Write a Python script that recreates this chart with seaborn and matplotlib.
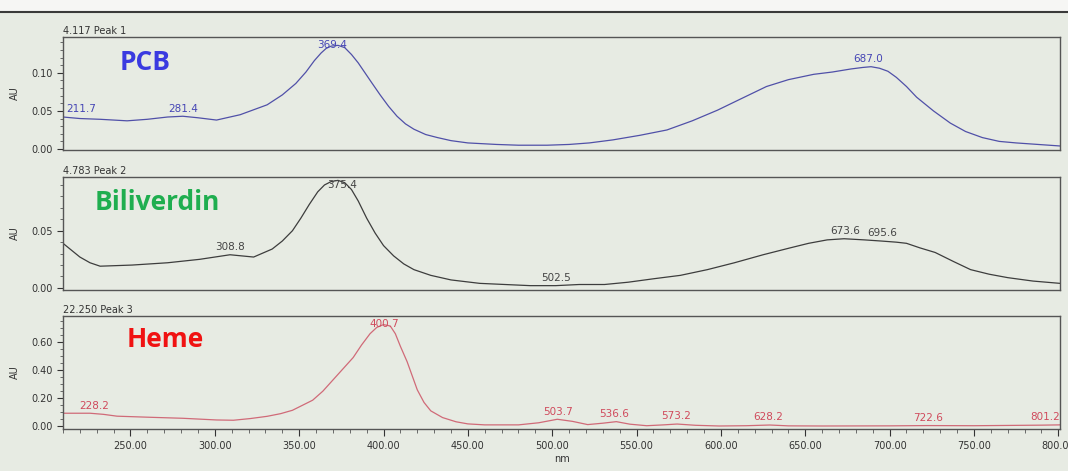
import numpy as np
import pandas as pd
import seaborn as sns
import matplotlib.pyplot as plt
from matplotlib.ticker import MultipleLocator, FormatStrFormatter
from matplotlib.lines import Line2D
from matplotlib.patches import Rectangle

# ---- spectra (nm, AU) ----
pcb_nm = [210, 220, 232, 248, 260, 272, 281, 290, 301, 315, 331, 340, 348, 354, 359, 363,
          366, 369, 373, 377, 381, 385, 389, 393, 398, 403, 408, 413, 418, 425, 432, 440,
          450, 467, 480, 497, 510, 522, 536, 552, 568, 583, 598, 612, 627, 640, 655, 666,
          677, 684, 689, 694, 699, 704, 710, 716, 726, 736, 745, 755, 765, 775, 788, 801]
pcb_au = [0.042, 0.040, 0.039, 0.037, 0.039, 0.042, 0.043, 0.041, 0.038, 0.045, 0.058, 0.071,
          0.086, 0.101, 0.116, 0.126, 0.132, 0.135, 0.136, 0.133, 0.124, 0.113, 0.100, 0.087,
          0.071, 0.056, 0.043, 0.033, 0.026, 0.019, 0.015, 0.011, 0.008, 0.006, 0.005, 0.005,
          0.006, 0.008, 0.012, 0.018, 0.025, 0.037, 0.051, 0.066, 0.082, 0.091, 0.098, 0.101,
          0.105, 0.107, 0.108, 0.106, 0.102, 0.094, 0.082, 0.068, 0.050, 0.034, 0.023, 0.015,
          0.010, 0.008, 0.006, 0.004]

bv_nm = [210, 215, 220, 226, 232, 251, 272, 291, 300, 309, 316, 323, 334, 340, 346, 351,
         356, 361, 365, 369, 373, 377, 381, 385, 390, 395, 400, 406, 412, 418, 428, 440,
         457, 472, 487, 502, 516, 531, 545, 560, 576, 592, 608, 625, 641, 652, 663, 673,
         685, 695, 704, 710, 718, 727, 738, 748, 759, 770, 785, 801]
bv_au = [0.039, 0.033, 0.027, 0.022, 0.019, 0.020, 0.022, 0.025, 0.027, 0.029, 0.028, 0.027,
         0.034, 0.041, 0.050, 0.061, 0.073, 0.084, 0.090, 0.093, 0.094, 0.092, 0.086, 0.076,
         0.061, 0.048, 0.037, 0.028, 0.021, 0.016, 0.011, 0.007, 0.004, 0.003, 0.002, 0.002,
         0.003, 0.003, 0.005, 0.008, 0.011, 0.016, 0.022, 0.029, 0.035, 0.039, 0.042, 0.043,
         0.042, 0.041, 0.040, 0.039, 0.035, 0.031, 0.023, 0.016, 0.012, 0.009, 0.006, 0.004]

heme_nm = [210, 226, 234, 242, 262, 281, 301, 311, 321, 331, 339, 346, 352, 358, 364, 370,
           376, 382, 387, 392, 396, 400, 404, 407, 410, 414, 417, 420, 424, 428, 435, 443,
           450, 460, 480, 492, 503, 512, 521, 530, 538, 546, 556, 566, 574, 585, 599, 615,
           629, 640, 660, 700, 722, 750, 770, 790, 801]
heme_au = [0.093, 0.093, 0.085, 0.072, 0.064, 0.057, 0.045, 0.043, 0.055, 0.071, 0.090, 0.114,
           0.150, 0.186, 0.25, 0.33, 0.41, 0.49, 0.58, 0.66, 0.705, 0.725, 0.715, 0.66, 0.57,
           0.46, 0.36, 0.26, 0.17, 0.11, 0.062, 0.032, 0.017, 0.010, 0.010, 0.025, 0.050,
           0.035, 0.012, 0.022, 0.033, 0.015, 0.004, 0.010, 0.016, 0.007, 0.002, 0.004, 0.009,
           0.003, 0.002, 0.003, 0.005, 0.004, 0.006, 0.008, 0.010]

# peak labels printed on the trace
pcb_peaks = [211.7, 281.4, 369.4, 687.0]
bv_peaks = [308.8, 375.4, 502.5, 673.6, 695.6]
heme_peaks = [228.2, 400.7, 503.7, 536.6, 573.2, 628.2, 722.6, 801.2]

titles = ['4.117 Peak 1', '4.783 Peak 2', '22.250 Peak 3']
names = ['PCB', 'Biliverdin', 'Heme']

sns.set_theme(style='ticks')
plt.rcParams['font.family'] = ['DejaVu Sans']

bg = '#e7ebe3'
fig = plt.figure(figsize=(10.68, 4.71), dpi=100, facecolor=bg)

panels = [
    dict(nm=pcb_nm, au=pcb_au, peaks=pcb_peaks, ylim=(-0.0013, 0.147), major=0.05, minor=0.01,
         line='#5050a8', lab='#4545b5', big='#3a3ae0', bottom=0.6815, bx=0.057, by=0.77),
    dict(nm=bv_nm, au=bv_au, peaks=bv_peaks, ylim=(-0.0018, 0.097), major=0.05, minor=0.01,
         line='#3d3d3d', lab='#444444', big='#1fae4f', bottom=0.3843, bx=0.032, by=0.77),
    dict(nm=heme_nm, au=heme_au, peaks=heme_peaks, ylim=(-0.02, 0.786), major=0.20, minor=0.05,
         line='#d06a78', lab='#d04a5c', big='#f01212', bottom=0.089, bx=0.064, by=0.79),
]

for i, p in enumerate(panels):
    ax = fig.add_axes([0.059, p['bottom'], 0.9335, 0.24])
    ax.set_facecolor(bg)
    df = pd.DataFrame({'nm': p['nm'], 'AU': p['au']})
    sns.lineplot(data=df, x='nm', y='AU', ax=ax, color=p['line'], linewidth=0.9)
    ax.set_xlim(210, 801)
    ax.set_ylim(*p['ylim'])
    ax.yaxis.set_major_locator(MultipleLocator(p['major']))
    ax.yaxis.set_minor_locator(MultipleLocator(p['minor']))
    ax.yaxis.set_major_formatter(FormatStrFormatter('%.2f'))
    ax.set_ylabel('AU', fontsize=7, color='#333333', labelpad=8)
    ax.tick_params(axis='y', labelsize=7, colors='#333333', length=4, width=0.8)
    ax.tick_params(axis='y', which='minor', length=2, width=0.6, color='#555555')
    for s in ax.spines.values():
        s.set_color('#555555')
        s.set_linewidth(1.0)
    ax.set_title(titles[i], loc='left', fontsize=7, color='#333333', pad=2)
    if i < 2:
        ax.set_xticks([])
        ax.set_xlabel('')
    else:
        ax.xaxis.set_major_locator(MultipleLocator(50))
        ax.xaxis.set_minor_locator(MultipleLocator(10))
        ax.xaxis.set_major_formatter(FormatStrFormatter('%.2f'))
        ax.tick_params(axis='x', labelsize=7, colors='#333333', length=5, width=0.8)
        ax.tick_params(axis='x', which='minor', length=3, width=0.6, color='#555555')
        ax.set_xlabel('nm', fontsize=7, color='#333333', labelpad=2)

    top = p['ylim'][1]
    for pk in p['peaks']:
        yv = float(np.interp(pk, p['nm'], p['au']))
        ha = 'center'
        if pk < 215:
            ha = 'left'
        elif pk > 795:
            ha = 'right'
        ytxt = min(yv, top * 0.86)
        ax.annotate(f'{pk:.1f}', (pk, ytxt), xytext=(0, 2), textcoords='offset points',
                    ha=ha, va='bottom', fontsize=7.5, color=p['lab'])

    ax.text(p['bx'], p['by'], names[i], transform=ax.transAxes, ha='left', va='center',
            fontsize=19, fontweight='bold', color=p['big'], family='Open Sans')

# paper edge at the top of the photo
fig.add_artist(Rectangle((0, 0.975), 1, 0.025, transform=fig.transFigure,
                         facecolor='#f6f6f4', edgecolor='none'))
fig.add_artist(Line2D([0, 1], [0.975, 0.975], transform=fig.transFigure,
                      color='#3a3a3a', linewidth=1.5))

fig.savefig('out.png', dpi=100, facecolor=bg)
